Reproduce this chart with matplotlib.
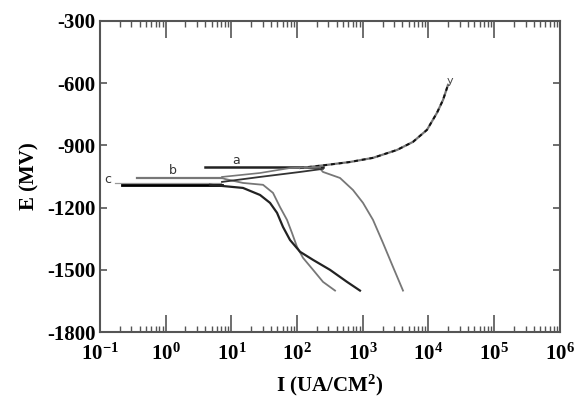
import matplotlib
matplotlib.use("Agg")
import matplotlib.pyplot as plt
from matplotlib.ticker import LogLocator, NullFormatter, FixedLocator

plt.rcParams['font.family'] = ['Liberation Serif', 'DejaVu Serif']
plt.rcParams['font.weight'] = 'bold'
plt.rcParams['mathtext.fontset'] = 'custom'
plt.rcParams['mathtext.rm'] = 'Liberation Serif:bold'
plt.rcParams['mathtext.it'] = 'Liberation Serif:bold'
plt.rcParams['mathtext.bf'] = 'Liberation Serif:bold'

# curve a : Ecorr about -1004 mV
a_spike_I = [4, 250]
a_spike_E = [-1004, -1004]
a_cath_I = [224, 248, 450, 709, 1007, 1430, 2028, 2884, 4093]
a_cath_E = [-1012, -1028, -1057, -1115, -1177, -1259, -1370, -1486, -1600]
# common anodic branch
an_I = [111, 285, 638, 1430, 3316, 5808, 9484, 13460, 16630, 19130, 19800]
an_E = [-1009, -994, -980, -960, -922, -883, -825, -743, -681, -623, -608]

# curve b : Ecorr about -1057 mV
b_spike_I = [0.36, 7.2]
b_spike_E = [-1057, -1057]
b_an_I = [7.2, 27.3, 78, 224]
b_an_E = [-1052, -1033, -1009, -1004]
b_cath_I = [7.2, 8.0, 15.0, 30.3, 43.0, 54.9, 70.2, 83.6, 99.6, 123, 175, 248, 378]
b_cath_E = [-1057, -1062, -1081, -1090, -1129, -1197, -1259, -1322, -1389, -1442,
            -1500, -1558, -1600]

# curve c : Ecorr about -1090 mV
c_spike_I = [0.22, 7.2]
c_spike_E = [-1090, -1090]
c_thin_I = [0.17, 7.0]
c_thin_E = [-1079, -1079]
c_an_I = [7.2, 27.3, 111, 248]
c_an_E = [-1076, -1052, -1028, -1013]
c_cath_I = [4.72, 15.0, 27.3, 38.7, 49.5, 61.0, 78.0, 111, 175, 317, 575, 906]
c_cath_E = [-1090, -1105, -1139, -1177, -1225, -1293, -1356, -1413, -1452, -1500,
            -1558, -1600]

labels = ['a', 'b', 'c']
label_I = [12, 1.3, 0.13]
label_E = [-972, -1022, -1062]

fig = plt.figure(figsize=(5.79, 4.03), dpi=100)
ax = fig.add_axes([0.1727, 0.176, 0.7943, 0.772])

gray = '#777777'
ax.plot(a_spike_I, a_spike_E, color='#222222', lw=1.8)
ax.plot(a_cath_I, a_cath_E, color=gray, lw=1.3)
ax.plot(an_I, an_E, color=gray, lw=1.6)
ax.plot(an_I, an_E, color='#111111', lw=1.4, dashes=(2, 2))

ax.plot(b_spike_I, b_spike_E, color=gray, lw=1.6)
ax.plot(b_an_I, b_an_E, color=gray, lw=1.2)
ax.plot(b_cath_I, b_cath_E, color=gray, lw=1.3)

ax.plot(c_thin_I, c_thin_E, color='#999999', lw=0.9)
ax.plot(c_spike_I, c_spike_E, color='black', lw=2.0)
ax.plot(c_an_I, c_an_E, color='#333333', lw=1.3)
ax.plot(c_cath_I, c_cath_E, color='#222222', lw=1.6)

for t, x, y in zip(labels, label_I, label_E):
    ax.text(x, y, t, fontsize=9, fontweight='normal', family='DejaVu Sans',
            color='#333333', ha='center', va='center')
ax.text(21000, -588, 'y', fontsize=8, fontweight='normal', family='DejaVu Sans',
        color='#444444', ha='center', va='center')

ax.set_xscale('log')
ax.set_xlim(0.1, 1e6)
ax.set_ylim(-1800, -300)
ax.set_yticks([-300, -600, -900, -1200, -1500, -1800])
ax.set_yticklabels(['-300', '-600', '-900', '-1200', '-1500', '-1800'])
ax.xaxis.set_major_locator(FixedLocator([10.0 ** k for k in range(-1, 7)]))
ax.set_xticklabels([r'$10^{%d}$' % k for k in range(-1, 7)])
ax.xaxis.set_minor_locator(LogLocator(base=10, subs=range(2, 10), numticks=20))
ax.xaxis.set_minor_formatter(NullFormatter())

ax.tick_params(axis='x', which='major', direction='in', length=12, width=1.2,
               top=True, labelsize=15, pad=8, color='#555555')
ax.tick_params(axis='x', which='minor', direction='in', length=4, width=1.0,
               top=True, color='#555555')
ax.tick_params(axis='y', which='major', direction='in', length=5, width=1.2,
               right=True, labelsize=15, pad=3, color='#555555')
for lab in ax.get_xticklabels() + ax.get_yticklabels():
    lab.set_fontweight('bold')

for s in ax.spines.values():
    s.set_color('#555555')
    s.set_linewidth(1.5)

ax.set_ylabel('E (MV)', fontsize=15, fontweight='bold', labelpad=6)
ax.set_xlabel(r'I (UA/CM$^{2}$)', fontsize=15, fontweight='bold', labelpad=6)

fig.savefig('out.png', dpi=100)
